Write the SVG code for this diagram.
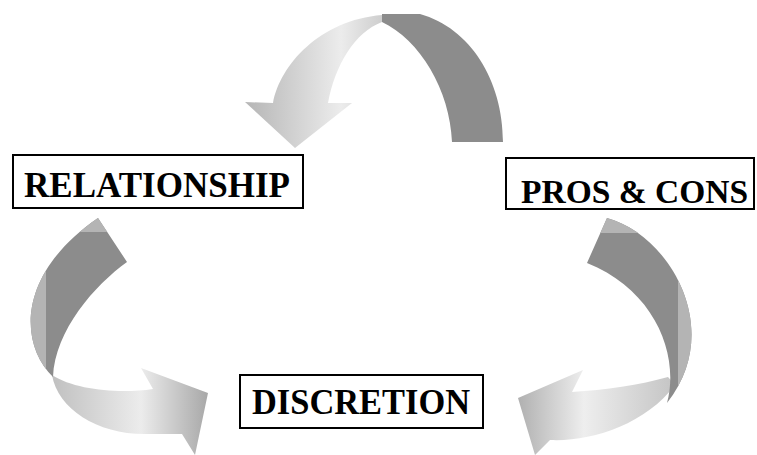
<svg xmlns="http://www.w3.org/2000/svg" width="757" height="455" viewBox="0 0 757 455">
  <style>
    .box { fill: #ffffff; stroke: #000000; stroke-width: 2; }
    .label { font-family: "Liberation Serif", "Times New Roman", serif; font-weight: bold; font-size: 36px; fill: #000000; }
    .dark { fill: #8c8c8c; }
    .side { fill: #b4b4b4; }
  </style>
  <defs>
    <linearGradient id="gTop" gradientUnits="userSpaceOnUse" x1="250" y1="0" x2="390" y2="0">
      <stop offset="0" stop-color="#b8b8b8"/>
      <stop offset="0.65" stop-color="#ececec"/>
      <stop offset="1" stop-color="#c8c8c8"/>
    </linearGradient>
    <linearGradient id="gLeft" gradientUnits="userSpaceOnUse" x1="52" y1="0" x2="208" y2="0">
      <stop offset="0" stop-color="#c0c0c0"/>
      <stop offset="0.57" stop-color="#ececec"/>
      <stop offset="1" stop-color="#a8a8a8"/>
    </linearGradient>
    <linearGradient id="gRight" gradientUnits="userSpaceOnUse" x1="518" y1="0" x2="675" y2="0">
      <stop offset="0" stop-color="#b0b0b0"/>
      <stop offset="0.42" stop-color="#eeeeee"/>
      <stop offset="1" stop-color="#c4c4c4"/>
    </linearGradient>
    <clipPath id="clipLeft">
      <path d="M98,218 L127,262 C95,285 55,330 53,377 C20,345 15,275 98,218 Z"/>
    </clipPath>
    <clipPath id="clipRight">
      <path d="M607,218 C670,235 725,330 667,403 C680,355 655,290 587,263 Z"/>
    </clipPath>
  </defs>

  <g id="connectors">
    <!-- top arrow: PROS & CONS -> RELATIONSHIP -->
    <g id="arrow-top">
      <path class="dark" d="M382,14 L420,14 C470,28 503,80 503,142 L452,142 C450,90 420,40 382,22 Z"/>
      <path fill="url(#gTop)" d="M382,15 C320,20 280,65 273,103 L245,102 L295,148 L352,103 L328,103 C335,65 355,32 382,22 Z"/>
    </g>
    <!-- left arrow: RELATIONSHIP -> DISCRETION -->
    <g id="arrow-left">
      <path fill="url(#gLeft)" d="M52,375 C58,410 100,436 150,434 L182,434 L195,455 L208,393 L141,368 L153,389 C120,394 75,390 52,375 Z"/>
      <path class="dark" d="M98,218 L127,262 C95,285 55,330 53,377 C20,345 15,275 98,218 Z"/>
      <g clip-path="url(#clipLeft)">
        <rect class="side" x="0" y="210" width="46" height="180"/>
        <rect class="side" x="0" y="210" width="140" height="22"/>
      </g>
    </g>
    <!-- right arrow: PROS & CONS -> DISCRETION -->
    <g id="arrow-right">
      <path fill="url(#gRight)" d="M668,377 C640,385 605,390 572,392 L583,370 L518,398 L535,455 L550,440 C590,442 645,425 675,385 Z"/>
      <path class="dark" d="M607,218 C670,235 725,330 667,403 C680,355 655,290 587,263 Z"/>
      <g clip-path="url(#clipRight)">
        <rect class="side" x="678" y="210" width="40" height="200"/>
        <rect class="side" x="580" y="210" width="140" height="23"/>
      </g>
    </g>
  </g>

  <g id="node-relationship">
    <rect class="box" x="13" y="155" width="290" height="53"/>
    <text class="label" x="24" y="197" textLength="266" lengthAdjust="spacingAndGlyphs">RELATIONSHIP</text>
  </g>
  <g id="node-pros-cons">
    <rect class="box" x="506" y="158" width="248" height="51"/>
    <text class="label" x="521" y="203" style="font-size:33.5px">PROS &amp; CONS</text>
  </g>
  <g id="node-discretion">
    <rect class="box" x="240" y="375" width="243" height="53"/>
    <text class="label" x="252" y="414" textLength="218" lengthAdjust="spacingAndGlyphs">DISCRETION</text>
  </g>
</svg>
